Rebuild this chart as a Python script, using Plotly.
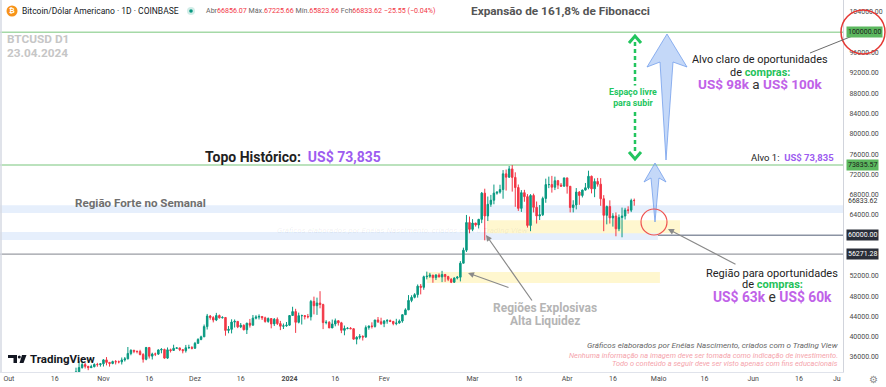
import plotly.graph_objects as go
import pandas as pd

# ---------------- DATA (BTCUSD daily, Coinbase) ----------------
start_date = "2023-10-20"
opens = [
    28720, 29680, 29910, 30000, 33080, 33920, 34500, 34160, 33900, 34090, 34530, 34500,
    34660, 35430, 34940, 34730, 35090, 35050, 35040, 35420, 35640, 36700, 37320, 37140, 37070, 36490, 35550,
    37880, 36170, 36600, 36570, 37390, 37470, 35780, 37420, 37290, 37720, 37790, 37450, 37240, 37820, 37860,
    37720, 38690, 39460, 39970, 41990, 44080, 43770, 43290, 44170, 43720, 43790, 41240, 41450, 42890, 43020,
    41940, 42260, 41370, 42660, 42270, 43660, 43860, 43990, 43720, 43010, 43580, 42520, 43440, 42580, 42070, 42140,
    42280, 44180, 44950, 42840, 44150, 44160, 43970, 43930, 46960, 46110, 46640, 46340, 42780, 42840, 41730,
    42500, 43150, 42740, 41260, 41620, 41670, 41570, 39520, 39880, 40070, 39930, 41810, 42110, 42030, 43300, 42940,
    42580, 43080, 43180, 43010, 42580, 42700, 43090, 44340, 45290, 47150, 47760, 48290, 49960, 49730, 51820,
    51920, 52140, 51650, 52140, 51780, 52260, 51850, 51320, 50740, 51570, 51730, 54490, 57050, 62500,
    61170, 62400, 62030, 63130, 68300, 63800, 66100, 66900, 68300, 68500, 69000, 72100, 71450, 73070, 71400,
    69400, 65300, 68390, 67610, 61930, 67840, 65500, 63800, 64030, 67250, 69980, 69990, 69460, 70750, 69890, 69660,
    71300, 69650, 65460, 65970, 68510, 67840, 68900, 69360, 71620, 69140, 70590, 70060, 67190, 63920, 65660,
    63420, 63790, 61270, 63480, 63790, 64960, 64940, 66856.07,
]
highs = [
    30200, 30350, 30200, 33900, 35200, 35130, 34820, 34250, 34470, 34750, 34850, 34720,
    35580, 35980, 34950, 35280, 35400, 35300, 35900, 36000, 37970, 37520, 37410, 37240, 37420, 36760, 37980,
    37940, 36850, 36860, 37510, 37760, 37650, 37880, 37650, 38420, 37900, 37820, 37580, 38380, 38420, 38150,
    38970, 39700, 40200, 42400, 44490, 44280, 44050, 44700, 44370, 44040, 43800, 42100, 43430, 43400, 43080,
    42700, 42420, 42760, 43500, 44280, 44240, 44400, 44030, 43950, 43800, 43600, 43680, 43800, 43120, 42600, 42900,
    44200, 45900, 45500, 44750, 44350, 44200, 44480, 47250, 47900, 47700, 48970, 46500, 43250, 43070, 43380,
    43580, 43200, 42930, 42200, 41880, 41890, 41680, 40100, 40520, 40280, 42220, 42200, 42840, 43300, 43880, 43740,
    43280, 43480, 43380, 43120, 43530, 43400, 44380, 45600, 48200, 48170, 48580, 50300, 50380, 52030, 52830,
    52580, 52180, 52350, 52480, 52980, 52380, 52000, 51550, 51700, 51970, 54900, 57550, 64000, 63680,
    63170, 62430, 63230, 68520, 69170, 67630, 67950, 69990, 68620, 69950, 72850, 72950, 73650, 73835, 72400,
    70000, 68900, 68950, 68100, 68100, 68200, 66650, 65950, 67600, 71150, 71550, 71700, 71550, 70900, 70300, 71350,
    71350, 69680, 66900, 69300, 68700, 69000, 70300, 72720, 71750, 71200, 71300, 71250, 67900, 65850, 66880,
    64350, 64500, 64100, 65450, 65400, 65700, 67200, 67225.66,
]
lows = [
    28600, 29470, 29680, 29900, 32900, 33700, 33740, 33400, 33880, 33960, 34080, 34100,
    34120, 34350, 34100, 34570, 34530, 34740, 34520, 35100, 35540, 36340, 36750, 36710, 36330, 34900, 35360,
    35700, 35510, 36180, 36400, 36730, 35650, 35620, 36890, 37260, 37600, 37160, 36720, 36870, 37620, 37500,
    37630, 38650, 39300, 39970, 41420, 43350, 42820, 43080, 43580, 43590, 40200, 40680, 40650, 41810, 41690,
    41700, 41250, 40530, 41800, 42220, 43420, 43400, 43300, 42760, 42750, 41650, 42100, 42300, 41300, 41520, 41960,
    42180, 44170, 40750, 42630, 42400, 43400, 43600, 43200, 44400, 44300, 45600, 41500, 42440, 41720, 41700,
    42050, 42200, 40700, 40280, 41460, 41500, 39450, 38500, 39480, 39250, 39800, 41390, 41620, 41800, 42700, 42300,
    41880, 42560, 42880, 42250, 42260, 42580, 42760, 44340, 45250, 46800, 47560, 47700, 48340, 49250, 51300,
    51600, 50630, 51170, 51720, 50760, 50820, 50950, 50570, 50600, 51300, 50900, 54450, 56700, 60380,
    60800, 61700, 61330, 62380, 59000, 62800, 65600, 66100, 68000, 68200, 67200, 68800, 71300, 68600, 65600,
    64800, 64600, 66600, 61500, 60800, 64500, 62300, 63000, 63800, 66400, 69280, 68400, 68900, 69100, 69600, 69600,
    68200, 64500, 64500, 65100, 66000, 67450, 68800, 69050, 68250, 67500, 69580, 65800, 60800, 62150, 62300,
    61700, 59800, 60800, 59600, 63100, 64250, 64550, 65823.66,
]
closes = [
    29680, 29910, 30000, 33080, 33920, 34500, 34160, 33900, 34090, 34530, 34500, 34660,
    35430, 34940, 34730, 35090, 35050, 35040, 35420, 35640, 36700, 37320, 37140, 37070, 36490, 35550, 37880,
    36170, 36600, 36570, 37390, 37470, 35780, 37420, 37290, 37720, 37790, 37450, 37240, 37820, 37860, 37720,
    38690, 39460, 39970, 41990, 44080, 43770, 43290, 44170, 43720, 43790, 41240, 41450, 42890, 43020, 41940,
    42260, 41370, 42660, 42270, 43660, 43860, 43990, 43720, 43010, 43580, 42520, 43440, 42580, 42070, 42140, 42280,
    44180, 44950, 42840, 44150, 44160, 43970, 43930, 46960, 46110, 46640, 46340, 42780, 42840, 41730, 42500,
    43150, 42740, 41260, 41620, 41670, 41570, 39520, 39880, 40070, 39930, 41810, 42110, 42030, 43300, 42940, 42580,
    43080, 43180, 43010, 42580, 42700, 43090, 44340, 45290, 47150, 47760, 48290, 49960, 49730, 51820, 51920,
    52140, 51650, 52140, 51780, 52260, 51850, 51320, 50740, 51570, 51730, 54490, 57050, 62500, 61170,
    62400, 62030, 63130, 68300, 63800, 66100, 66900, 68300, 68500, 69000, 72100, 71450, 73070, 71400, 69400,
    65300, 68390, 67610, 61930, 67840, 65500, 63800, 64030, 67250, 69980, 69990, 69460, 70750, 69890, 69660, 71300,
    69650, 65460, 65970, 68510, 67840, 68900, 69360, 71620, 69140, 70590, 70060, 67190, 63920, 65660, 63420,
    63790, 61270, 63480, 63790, 64960, 64940, 66840, 66833.62,
]

# key price levels
level_target = 100000.00
level_ath = 73835.57
level_last = 66833.62
level_support = 60000.00
level_support2 = 56271.28
weekly_zone = (64400, 65900)
support_zone_blue = (59060, 60640)
explosive_zone_1 = (60410, 62970)
explosive_zone_2 = (50580, 52750)

y_tick_values = [36000, 40000, 44000, 48000, 52000, 64000, 68000, 72000, 76000,
                 80000, 84000, 88000, 92000, 96000, 104000]
x_tick_dates = ["2023-10-01", "2023-10-16", "2023-11-01", "2023-11-16", "2023-12-01", "2023-12-16",
                "2024-01-01", "2024-01-16", "2024-02-01", "2024-03-01", "2024-03-16", "2024-04-01",
                "2024-04-16", "2024-05-01", "2024-05-16", "2024-06-01", "2024-06-16"]
x_tick_labels = ["Out", "16", "Nov", "16", "Dez", "16", "<b>2024</b>", "16", "Fev", "Mar", "16", "Abr",
                 "16", "Maio", "16", "Jun", "16"]

# ---------------- LAYOUT HELPERS ----------------
W, H = 886, 387
ML, MR, MT, MB = 0, 43, 0, 15
PW, PH = W - ML - MR, H - MT - MB
FONT = "Roboto, Arial, sans-serif"
PURPLE = "#9d5cf0"
PURPLE2 = "#c062e8"
GREEN = "#1fc25a"


def px(x):
    return (x - ML) / PW


def py(y):
    return 1 - (y - MT) / PH


def path(points, close=True):
    s = "M " + " L ".join(f"{px(x):.5f},{py(y):.5f}" for x, y in points)
    return s + (" Z" if close else "")


dates = pd.date_range(start_date, periods=len(closes), freq="D")

fig = go.Figure()
fig.add_trace(go.Candlestick(
    x=dates, open=opens, high=highs, low=lows, close=closes,
    increasing=dict(line=dict(color="#089981", width=1), fillcolor="#089981"),
    decreasing=dict(line=dict(color="#f23645", width=1), fillcolor="#f23645"),
    whiskerwidth=0, hoverinfo="skip", showlegend=False,
))

shapes = []
# bands
shapes.append(dict(type="rect", xref="paper", yref="y", x0=0, x1=1, y0=weekly_zone[0], y1=weekly_zone[1],
                   fillcolor="#e6effc", line_width=0, layer="below"))
shapes.append(dict(type="rect", xref="x", yref="y", x0="2023-09-20", x1="2024-04-30 18:00",
                   y0=support_zone_blue[0], y1=support_zone_blue[1], fillcolor="#e6effc", line_width=0, layer="below"))
shapes.append(dict(type="rect", xref="x", yref="y", x0="2024-03-05 16:00", x1="2024-05-08",
                   y0=explosive_zone_1[0], y1=explosive_zone_1[1], fillcolor="#fff7cf", line_width=0, layer="below"))
shapes.append(dict(type="rect", xref="x", yref="y", x0="2024-02-15", x1="2024-05-01 10:00",
                   y0=explosive_zone_2[0], y1=explosive_zone_2[1], fillcolor="#fff7cf", line_width=0, layer="below"))
# horizontal level lines
for lv, col, w in [(level_target, "#a5d9a7", 1.6), (level_ath, "#a5d9a7", 1.6),
                   (level_support, "#8b93a3", 1.4), (level_support2, "#9a9ca3", 1.2)]:
    shapes.append(dict(type="line", xref="paper", yref="y", x0=0, x1=1, y0=lv, y1=lv,
                       line=dict(color=col, width=w), layer="below"))
# left border
shapes.append(dict(type="line", xref="paper", yref="paper", x0=px(1), x1=px(1), y0=0, y1=1,
                   line=dict(color="#d6dae3", width=1.5)))
# blue arrows
arrow_fill = "rgba(125,168,240,0.45)"
arrow_line = "rgba(110,155,235,0.75)"
shapes.append(dict(type="path", xref="paper", yref="paper",
                   path=path([(667, 34), (687, 67), (673, 62), (666, 160), (660, 62), (647, 67)]),
                   fillcolor=arrow_fill, line=dict(color=arrow_line, width=1)))
shapes.append(dict(type="path", xref="paper", yref="paper",
                   path=path([(655, 163), (666, 182), (659, 178), (655, 222), (651, 178), (644, 182)]),
                   fillcolor=arrow_fill, line=dict(color=arrow_line, width=1)))
# green dashed double arrow
shapes.append(dict(type="line", xref="paper", yref="paper", x0=px(635), x1=px(635), y0=py(42), y1=py(153),
                   line=dict(color="#22c55e", width=2.5, dash="4px,3px")))
shapes.append(dict(type="path", xref="paper", yref="paper", path=path([(629, 43), (635, 36), (641, 43)], False),
                   line=dict(color="#22c55e", width=3)))
shapes.append(dict(type="path", xref="paper", yref="paper", path=path([(629, 152), (635, 159), (641, 152)], False),
                   line=dict(color="#22c55e", width=3)))
# red circles
shapes.append(dict(type="circle", xref="paper", yref="paper", x0=px(641), x1=px(667), y0=py(235), y1=py(209),
                   line=dict(color="#ef5350", width=1.2)))
shapes.append(dict(type="circle", xref="paper", yref="paper", x0=px(841), x1=px(885), y0=py(54), y1=py(10),
                   line=dict(color="#e53935", width=1.5)))
# pointer line to top label
shapes.append(dict(type="line", xref="paper", yref="paper", x0=px(810), x1=px(860), y0=py(53), y1=py(33),
                   line=dict(color="#6b6b6b", width=1)))
# header icons
shapes.append(dict(type="circle", xref="paper", yref="paper", x0=px(6.5), x1=px(17.5), y0=py(16.5), y1=py(5.5),
                   fillcolor="#f7931a", line_width=0))
shapes.append(dict(type="circle", xref="paper", yref="paper", x0=px(187), x1=px(195), y0=py(15), y1=py(7),
                   fillcolor="rgba(8,153,129,0.18)", line_width=0))
shapes.append(dict(type="circle", xref="paper", yref="paper", x0=px(189.2), x1=px(192.8), y0=py(12.8), y1=py(9.2),
                   fillcolor="#089981", line_width=0))
# TradingView logo
shapes.append(dict(type="path", xref="paper", yref="paper",
                   path=path([(8, 355), (17, 355), (17, 363), (13.5, 363), (13.5, 358), (8, 358)]),
                   fillcolor="#131722", line_width=0))
shapes.append(dict(type="circle", xref="paper", yref="paper", x0=px(17.8), x1=px(20.8), y0=py(358.5), y1=py(355.5),
                   fillcolor="#131722", line_width=0))
shapes.append(dict(type="path", xref="paper", yref="paper",
                   path=path([(22, 355), (26.5, 355), (23.5, 363), (19.5, 363)]),
                   fillcolor="#131722", line_width=0))

ann = []


def T(text, x, y, size, color="#222", anchor="center", bold=False, italic=False, bg=None):
    if bold:
        text = f"<b>{text}</b>"
    if italic:
        text = f"<i>{text}</i>"
    d = dict(text=text, x=px(x), y=py(y), xref="paper", yref="paper",
             xanchor=anchor, yanchor="middle", showarrow=False,
             font=dict(family=FONT, size=size, color=color), align=anchor)
    if bg:
        d["bgcolor"] = bg
    ann.append(d)


# header
T("₿", 12, 11.5, 7, "white", bold=True)
T("Bitcoin/Dólar Americano · 1D · COINBASE", 20, 11, 8.5, "#131722", anchor="left")
red = "#f23645"
ohlc = (f"Abr<span style='color:{red}'>66856.07</span> Máx.<span style='color:{red}'>67225.66</span> "
        f"Mín.<span style='color:{red}'>65823.66</span> Fch<span style='color:{red}'>66833.62</span> "
        f"<span style='color:{red}'>−25.55 (−0.04%)</span>")
T(ohlc, 204, 11, 7.1, "#666", anchor="left")
T("Expansão de 161,8% de Fibonacci", 560, 11, 11.8, "#555", bold=True)
T("BTCUSD D1", 5, 39, 11.8, "#c6c6c6", anchor="left", bold=True)
T("23.04.2024", 5, 53, 11.8, "#c6c6c6", anchor="left", bold=True)
# main annotations
T(f"Topo Histórico:  <span style='color:{PURPLE}'>US$ 73,835</span>", 203, 157, 14, "#1f1f1f",
  anchor="left", bold=True)
T(f"Alvo 1:  <b><span style='color:{PURPLE}'>US$ 73,835</span></b>", 836, 157, 9.5, "#222", anchor="right")
T("Região Forte no Semanal", 140, 203, 11.6, "#6f6f6f", bold=True)
T("Espaço livre<br>para subir", 633, 97, 8.8, "#22c55e", bold=True, bg="white")
T("Alvo claro de oportunidades", 760, 60, 10.9, "#222")
T(f"de <b><span style='color:{GREEN}'>compras:</span></b>", 760, 72, 10.9, "#222")
T(f"<b><span style='color:{PURPLE2}'>US$ 98k</span></b> a <b><span style='color:{PURPLE2}'>US$ 100k</span></b>",
  760, 84, 13.5, "#333")
T("Região para oportunidades", 772, 273, 11, "#222")
T(f"de <b><span style='color:{GREEN}'>compras:</span></b>", 772, 284, 11, "#222")
T(f"<b><span style='color:{PURPLE2}'>US$ 63k</span></b> e <b><span style='color:{PURPLE2}'>US$ 60k</span></b>",
  772, 297, 13.8, "#333")
T("Regiões Explosivas", 545, 308, 12, "#b5b5b5", bold=True)
T("Alta Liquidez", 545, 321, 12, "#b5b5b5", bold=True)
T("Gráficos elaborados por Enéias Nascimento, criados com o Trading View", 530, 230, 8,
  "rgba(0,0,0,0.08)", anchor="right", italic=True)
T("Gráficos elaborados por Enéias Nascimento, criados com o Trading View", 840, 345, 8, "#666",
  anchor="right", italic=True)
T("Nenhuma informação na imagem deve ser tomada como indicação de investimento.", 840, 355, 7.4, "#f5a3ab",
  anchor="right", italic=True)
T("Todo o conteúdo a seguir deve ser visto apenas com fins educacionais", 840, 363, 7.4, "#f5a3ab",
  anchor="right", italic=True)
T("TradingView", 28, 359, 11.5, "#131722", anchor="left", bold=True)
T("Ju", 843, 379, 7, "#4a4a4a", anchor="right")
T("⚙", 873, 379, 10, "#888")

# axis value boxes
for lv, bg, fc in [(level_target, "#5cb85f", "#1b1b1b"), (level_ath, "#5cb85f", "#1b1b1b"),
                   (level_last, None, "#333"), (level_support, "#2a2e39", "white"),
                   (level_support2, "#2a2e39", "white")]:
    d = dict(text=f"{lv:.2f}", x=px(846), y=lv, xref="paper", yref="y", xanchor="left", yanchor="middle",
             showarrow=False, font=dict(family=FONT, size=7, color=fc), borderpad=1)
    if bg:
        d["bgcolor"] = bg
    ann.append(d)

# gray pointer arrows
for hx, hy, ax, ay in [(668, 229, 69, 36), (486, 235, 47, 67), (468, 273, 42, 15)]:
    ann.append(dict(text="", x=px(hx), y=py(hy), xref="paper", yref="paper", ax=ax, ay=ay,
                    showarrow=True, arrowhead=2, arrowsize=1, arrowwidth=1.2, arrowcolor="#8a8a8a"))

fig.update_layout(
    width=W, height=H, margin=dict(l=ML, r=MR, t=MT, b=MB),
    paper_bgcolor="white", plot_bgcolor="white",
    shapes=shapes, annotations=ann, showlegend=False, hovermode=False,
    xaxis=dict(type="date", range=["2023-09-28 02:00", "2024-06-30 10:30"], rangeslider=dict(visible=False),
               showgrid=False, zeroline=False, showline=True, linecolor="#e0e3eb", linewidth=1,
               tickvals=x_tick_dates, ticktext=x_tick_labels, ticks="",
               tickfont=dict(family=FONT, size=7, color="#4a4a4a")),
    yaxis=dict(range=[33044, 106365], side="right", showgrid=False, zeroline=False,
               showline=True, linecolor="#d1d4dc", linewidth=1,
               tickvals=y_tick_values, tickformat=".2f", ticks="", ticklabelstandoff=4,
               tickfont=dict(family=FONT, size=7, color="#4a4a4a")),
)

fig.write_html("out.html", config={"displayModeBar": False},
               post_script="document.body.style.margin='0';document.body.style.overflow='hidden';")
